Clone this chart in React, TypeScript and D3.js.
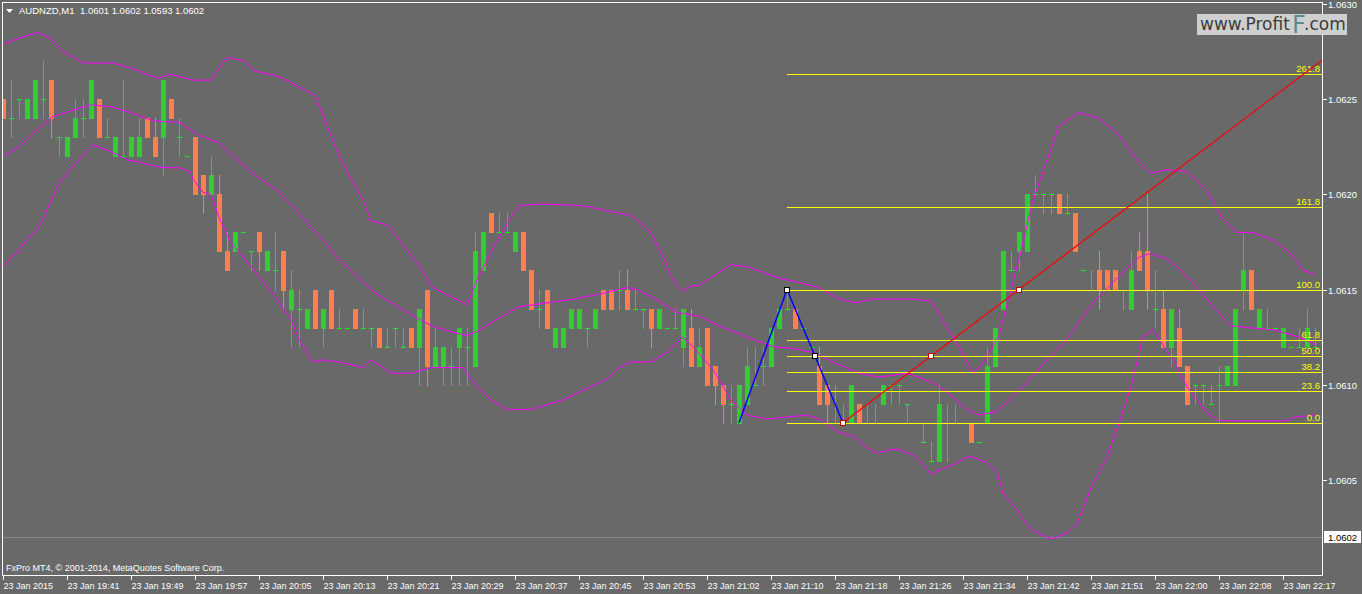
import React from 'react';
import * as d3 from 'd3';

// AUDNZD M1 candles, one per bar (oldest first)
const opens = [
  1.0625, 1.0624, 1.0625, 1.0624, 1.0624, 1.0625, 1.0626, 1.0623, 1.0622, 1.0623,
  1.0624, 1.0624, 1.0625, 1.0623, 1.0622, 1.0622, 1.0622, 1.0622, 1.0624, 1.0623,
  1.0623, 1.0625, 1.0623, 1.0622, 1.0623, 1.0621, 1.0620, 1.0620, 1.0617, 1.0617,
  1.0618, 1.0617, 1.0618, 1.0616, 1.0616, 1.0617, 1.0614, 1.0614, 1.0613, 1.0615,
  1.0613, 1.0615, 1.0613, 1.0613, 1.0614, 1.0613, 1.0613, 1.0613, 1.0612, 1.0613,
  1.0612, 1.0613, 1.0612, 1.0615, 1.0611, 1.0611, 1.0611, 1.0612, 1.0612, 1.0611,
  1.0616, 1.0619, 1.0618, 1.0618, 1.0617, 1.0618, 1.0616, 1.0614, 1.0615, 1.0612,
  1.0612, 1.0613, 1.0613, 1.0613, 1.0613, 1.0615, 1.0615, 1.0615, 1.0615, 1.0614,
  1.0614, 1.0614, 1.0613, 1.0613, 1.0613, 1.0612, 1.0613, 1.0611, 1.0613, 1.0611,
  1.0610, 1.0609, 1.0608, 1.0609, 1.0610, 1.0611, 1.0611, 1.0613, 1.0614, 1.0614,
  1.0613, 1.0612, 1.0611, 1.0610, 1.0608, 1.0608, 1.0608, 1.0609, 1.0608, 1.0608,
  1.0609, 1.0610, 1.0610, 1.0609, 1.0608, 1.0607, 1.0606, 1.0606, 1.0608, 1.0608,
  1.0608, 1.0608, 1.0607, 1.0608, 1.0611, 1.0614, 1.0616, 1.0617, 1.0617, 1.0620,
  1.0620, 1.0620, 1.0620, 1.0619, 1.0619, 1.0616, 1.0615, 1.0616, 1.0616, 1.0616,
  1.0615, 1.0614, 1.0617, 1.0617, 1.0614, 1.0614, 1.0612, 1.0613, 1.0611, 1.0610,
  1.0610, 1.0609, 1.0610, 1.0610, 1.0610, 1.0615, 1.0616, 1.0613, 1.0613, 1.0613,
  1.0612, 1.0612, 1.0612, 1.0612, 1.0612,
];
const highs = [
  1.0625, 1.0626, 1.0625, 1.0625, 1.0626, 1.0627, 1.0626, 1.0623, 1.0623, 1.0625,
  1.0625, 1.0626, 1.0625, 1.0624, 1.0623, 1.0626, 1.0623, 1.0624, 1.0624, 1.0624,
  1.0626, 1.0625, 1.0624, 1.0622, 1.0623, 1.0621, 1.0622, 1.0621, 1.0618, 1.0618,
  1.0618, 1.0617, 1.0618, 1.0617, 1.0618, 1.0617, 1.0616, 1.0615, 1.0614, 1.0615,
  1.0614, 1.0615, 1.0614, 1.0613, 1.0614, 1.0614, 1.0613, 1.0613, 1.0613, 1.0613,
  1.0613, 1.0613, 1.0614, 1.0615, 1.0613, 1.0612, 1.0612, 1.0613, 1.0613, 1.0618,
  1.0618, 1.0619, 1.0619, 1.0619, 1.0618, 1.0618, 1.0616, 1.0615, 1.0615, 1.0613,
  1.0613, 1.0614, 1.0614, 1.0613, 1.0614, 1.0615, 1.0615, 1.0616, 1.0616, 1.0615,
  1.0614, 1.0614, 1.0614, 1.0613, 1.0614, 1.0614, 1.0614, 1.0613, 1.0613, 1.0611,
  1.0610, 1.0610, 1.0610, 1.0612, 1.0612, 1.0612, 1.0613, 1.0614, 1.0615, 1.0614,
  1.0613, 1.0612, 1.0612, 1.0610, 1.0610, 1.0609, 1.0610, 1.0609, 1.0609, 1.0609,
  1.0610, 1.0610, 1.0610, 1.0609, 1.0608, 1.0608, 1.0607, 1.0610, 1.0609, 1.0609,
  1.0608, 1.0608, 1.0607, 1.0612, 1.0613, 1.0617, 1.0617, 1.0618, 1.0620, 1.0621,
  1.0620, 1.0620, 1.0620, 1.0620, 1.0619, 1.0616, 1.0616, 1.0617, 1.0616, 1.0616,
  1.0615, 1.0617, 1.0618, 1.0620, 1.0616, 1.0615, 1.0614, 1.0614, 1.0611, 1.0610,
  1.0610, 1.0610, 1.0611, 1.0611, 1.0614, 1.0618, 1.0616, 1.0614, 1.0614, 1.0613,
  1.0613, 1.0612, 1.0613, 1.0614, 1.0613,
];
const lows = [
  1.0624, 1.0623, 1.0624, 1.0624, 1.0624, 1.0624, 1.0623, 1.0622, 1.0622, 1.0623,
  1.0623, 1.0624, 1.0623, 1.0623, 1.0622, 1.0622, 1.0622, 1.0622, 1.0623, 1.0622,
  1.0621, 1.0624, 1.0622, 1.0622, 1.0620, 1.0619, 1.0620, 1.0617, 1.0616, 1.0617,
  1.0618, 1.0616, 1.0616, 1.0616, 1.0615, 1.0614, 1.0612, 1.0612, 1.0613, 1.0613,
  1.0612, 1.0613, 1.0613, 1.0613, 1.0613, 1.0613, 1.0612, 1.0612, 1.0612, 1.0612,
  1.0612, 1.0612, 1.0610, 1.0610, 1.0611, 1.0610, 1.0610, 1.0610, 1.0610, 1.0611,
  1.0616, 1.0618, 1.0618, 1.0618, 1.0617, 1.0616, 1.0614, 1.0613, 1.0613, 1.0612,
  1.0612, 1.0613, 1.0613, 1.0612, 1.0613, 1.0614, 1.0614, 1.0614, 1.0614, 1.0614,
  1.0613, 1.0612, 1.0613, 1.0613, 1.0613, 1.0611, 1.0611, 1.0611, 1.0610, 1.0609,
  1.0608, 1.0608, 1.0608, 1.0609, 1.0610, 1.0610, 1.0611, 1.0613, 1.0614, 1.0613,
  1.0613, 1.0612, 1.0609, 1.0608, 1.0608, 1.0608, 1.0608, 1.0608, 1.0608, 1.0608,
  1.0609, 1.0609, 1.0609, 1.0608, 1.0608, 1.0607, 1.0606, 1.0606, 1.0606, 1.0608,
  1.0608, 1.0607, 1.0607, 1.0608, 1.0611, 1.0614, 1.0616, 1.0616, 1.0617, 1.0620,
  1.0619, 1.0619, 1.0619, 1.0619, 1.0617, 1.0616, 1.0615, 1.0614, 1.0615, 1.0615,
  1.0614, 1.0614, 1.0616, 1.0614, 1.0613, 1.0612, 1.0611, 1.0611, 1.0609, 1.0609,
  1.0609, 1.0609, 1.0608, 1.0610, 1.0610, 1.0614, 1.0614, 1.0613, 1.0613, 1.0613,
  1.0612, 1.0612, 1.0612, 1.0612, 1.0612,
];
const closes = [
  1.0624, 1.0624, 1.0625, 1.0625, 1.0626, 1.0625, 1.0624, 1.0623, 1.0623, 1.0624,
  1.0624, 1.0626, 1.0623, 1.0623, 1.0623, 1.0622, 1.0623, 1.0623, 1.0623, 1.0622,
  1.0626, 1.0624, 1.0623, 1.0622, 1.0620, 1.0620, 1.0621, 1.0617, 1.0616, 1.0618,
  1.0618, 1.0617, 1.0617, 1.0617, 1.0616, 1.0615, 1.0615, 1.0614, 1.0614, 1.0613,
  1.0614, 1.0613, 1.0613, 1.0613, 1.0613, 1.0613, 1.0613, 1.0612, 1.0612, 1.0613,
  1.0612, 1.0612, 1.0614, 1.0611, 1.0612, 1.0612, 1.0611, 1.0613, 1.0612, 1.0617,
  1.0618, 1.0618, 1.0618, 1.0618, 1.0618, 1.0616, 1.0614, 1.0614, 1.0613, 1.0613,
  1.0613, 1.0614, 1.0614, 1.0613, 1.0614, 1.0614, 1.0614, 1.0615, 1.0614, 1.0614,
  1.0614, 1.0613, 1.0614, 1.0613, 1.0613, 1.0614, 1.0611, 1.0612, 1.0610, 1.0610,
  1.0609, 1.0609, 1.0610, 1.0611, 1.0610, 1.0611, 1.0613, 1.0614, 1.0614, 1.0613,
  1.0613, 1.0612, 1.0609, 1.0609, 1.0608, 1.0608, 1.0610, 1.0608, 1.0608, 1.0608,
  1.0610, 1.0610, 1.0610, 1.0609, 1.0608, 1.0607, 1.0606, 1.0609, 1.0608, 1.0608,
  1.0608, 1.0607, 1.0607, 1.0611, 1.0613, 1.0617, 1.0616, 1.0618, 1.0620, 1.0620,
  1.0620, 1.0620, 1.0619, 1.0619, 1.0617, 1.0616, 1.0615, 1.0615, 1.0615, 1.0615,
  1.0615, 1.0616, 1.0616, 1.0615, 1.0614, 1.0612, 1.0614, 1.0611, 1.0609, 1.0610,
  1.0610, 1.0609, 1.0610, 1.0611, 1.0614, 1.0616, 1.0614, 1.0614, 1.0613, 1.0613,
  1.0613, 1.0612, 1.0612, 1.0613, 1.0612,
];

// Bollinger bands: [bar, price]
const upperBand: [number, number][] = [
  [0, 1.06279], [2, 1.06282], [4.25, 1.06285], [6, 1.06282], [7.5, 1.06275], [10, 1.06269],
  [13.75, 1.06269], [16.25, 1.06266], [19.25, 1.06261], [21, 1.06263], [23.75, 1.0626],
  [26, 1.0626], [28, 1.06272], [30.25, 1.0627], [31.25, 1.06265], [34.5, 1.06262],
  [39, 1.06252], [42, 1.0622], [43.5, 1.06208], [45, 1.06197], [46, 1.06186], [48, 1.06184],
  [51.25, 1.06167], [53.75, 1.06151], [58, 1.06142], [59.25, 1.06155], [61.75, 1.06176],
  [64.5, 1.06194], [67.5, 1.06195], [72.5, 1.06194], [76, 1.06191], [78.5, 1.06189],
  [81, 1.0618], [82.5, 1.06167], [83.75, 1.06155], [85, 1.06149], [86, 1.06152], [87, 1.06152],
  [88.75, 1.06157], [91, 1.06163], [93, 1.06162], [95, 1.06159], [97, 1.06156],
  [99.25, 1.06154], [102, 1.06151], [104.5, 1.06145], [106.75, 1.06143], [108.5, 1.06145],
  [113.75, 1.06145], [116, 1.06144], [118, 1.0613], [119.5, 1.0612], [121.25, 1.06106],
  [123, 1.06114], [124.5, 1.06126], [127, 1.06166], [128.75, 1.06197], [130.5, 1.06218],
  [132, 1.06236], [134.5, 1.06243], [137, 1.0624], [139.5, 1.06231], [141.75, 1.06218],
  [143.5, 1.06211], [145.5, 1.06213], [148, 1.06212], [150.5, 1.06202], [152.5, 1.06187],
  [154.25, 1.0618], [156.25, 1.0618], [158.75, 1.06176], [161, 1.06169], [162.5, 1.0616],
  [164, 1.06158],
];
const middleBand: [number, number][] = [
  [0, 1.0622], [2, 1.06225], [3.75, 1.06232], [6.25, 1.06241], [11, 1.06247], [13.5, 1.06246],
  [16, 1.06243], [18.5, 1.06239], [20.5, 1.06238], [22, 1.06238], [24.5, 1.06231],
  [27, 1.06227], [28, 1.06223], [31.25, 1.06211], [34.25, 1.06202], [37, 1.0619],
  [40, 1.06176], [42, 1.06166], [43.5, 1.0616], [46.25, 1.06149], [50.5, 1.06138],
  [53.5, 1.06131], [56.75, 1.06127], [58, 1.06126], [59.25, 1.06128], [62, 1.06135],
  [64.5, 1.06141], [68, 1.06143], [71.25, 1.06145], [75, 1.06148], [78, 1.06151],
  [79.25, 1.0615], [82, 1.06144], [84.25, 1.06138], [87, 1.06136], [89.5, 1.06131],
  [93, 1.06125], [96.25, 1.0612], [98.75, 1.06119], [101.25, 1.06117], [104.25, 1.06111],
  [107, 1.06106], [109.5, 1.06104], [113, 1.06106], [116.25, 1.06101], [118, 1.06096],
  [120.5, 1.06087], [122, 1.06084], [124.25, 1.06086], [125.5, 1.06091], [127.5, 1.06099],
  [130.5, 1.06113], [133, 1.06124], [136.25, 1.06143], [139.5, 1.06157], [142, 1.06167],
  [143.5, 1.06169], [145.5, 1.06166], [147, 1.06161], [149.5, 1.0615], [151.25, 1.06141],
  [153.5, 1.06131], [155.5, 1.0613], [158.75, 1.06129], [162, 1.06125], [164, 1.06121],
];
const lowerBand: [number, number][] = [
  [0, 1.06162], [1.25, 1.06168], [2, 1.0617], [3, 1.06177], [4.25, 1.06181], [5, 1.06187],
  [7, 1.06206], [9.25, 1.06217], [11.25, 1.06226], [12, 1.06225], [14.25, 1.06221],
  [15.5, 1.06218], [17, 1.06217], [18.75, 1.06215], [20.5, 1.06214], [22, 1.06214],
  [23.4, 1.06212], [23.75, 1.06208], [25, 1.06201], [26, 1.062], [27, 1.06188],
  [28.4, 1.06175], [31, 1.06162], [34.25, 1.06145], [36, 1.06134], [37, 1.06124],
  [38.75, 1.06112], [40, 1.06113], [42, 1.06112], [45, 1.06109], [46, 1.06113],
  [48.5, 1.06106], [51, 1.06106], [53.5, 1.06109], [57.5, 1.06109], [59.25, 1.06099],
  [61, 1.06092], [63, 1.06087], [66, 1.06087], [70, 1.06092], [75.5, 1.06103], [77, 1.06109],
  [78.5, 1.06112], [81, 1.06112], [83, 1.06117], [85, 1.06125], [86.25, 1.0612],
  [88.75, 1.06108], [91, 1.06092], [93, 1.06084], [95.5, 1.06082], [98, 1.06083],
  [100.5, 1.06084], [102, 1.06082], [104.5, 1.06075], [106.25, 1.06073], [108, 1.06067],
  [109.25, 1.06064], [111, 1.06066], [112, 1.06066], [113.75, 1.06063], [115, 1.06058],
  [116, 1.06053], [117, 1.06055], [118.75, 1.06058], [120.5, 1.06062], [121.25, 1.06062],
  [123, 1.06059], [124.25, 1.06054], [125, 1.06043], [126.75, 1.06034], [128.5, 1.06024],
  [131, 1.06019], [133, 1.06022], [134.25, 1.06027], [136, 1.06046], [138, 1.06062],
  [139.5, 1.0608], [141, 1.06099], [142.5, 1.06125], [143.75, 1.06129], [144.5, 1.06124],
  [146.25, 1.06113], [148, 1.06099], [149.25, 1.06092], [150.5, 1.06085], [152, 1.06081],
  [154.25, 1.06081], [160.5, 1.06081], [161.5, 1.06083], [164, 1.06084],
];

const timeLabels = [
  '23 Jan 2015', '23 Jan 19:41', '23 Jan 19:49', '23 Jan 19:57', '23 Jan 20:05', '23 Jan 20:13',
  '23 Jan 20:21', '23 Jan 20:29', '23 Jan 20:37', '23 Jan 20:45', '23 Jan 20:53', '23 Jan 21:02',
  '23 Jan 21:10', '23 Jan 21:18', '23 Jan 21:26', '23 Jan 21:34', '23 Jan 21:42', '23 Jan 21:51',
  '23 Jan 22:00', '23 Jan 22:08', '23 Jan 22:17',
];
const priceTicks = [1.063, 1.0625, 1.062, 1.0615, 1.061, 1.0605];
const lastPrice = 1.0602;

// drawing objects: [bar, price]
const zigzag: [number, number][] = [[92, 1.0608], [98, 1.0615], [105, 1.0608]];
const fibFrom: [number, number] = [98, 1.0615];
const fibTo: [number, number] = [105, 1.0608];
const fibLevels = [0, 23.6, 38.2, 50, 61.8, 100, 161.8, 261.8];
const trendFrom: [number, number] = [105, 1.0608];
const trendTo: [number, number] = [127, 1.0615];

const W = 1362;
const H = 594;
const FONT = '"Liberation Sans", Arial, sans-serif';
const BG = '#696969';
const BULL = '#32CD32';
const BEAR = '#FF7F50';

const plot = { left: 3, top: 3, right: 1322, bottom: 575 };

export default function App() {
  const x = d3.scaleLinear().domain([0, 164]).range([3, 1315]);
  const y = d3.scaleLinear().domain([lastPrice, 1.063]).range([537, 4]);

  const line = d3.line<[number, number]>().x(d => x(d[0])).y(d => y(d[1]));

  const fibPrice = (lvl: number) => fibTo[1] + (fibFrom[1] - fibTo[1]) * lvl / 100;
  const slope = (trendTo[1] - trendFrom[1]) / (trendTo[0] - trendFrom[0]);
  const trendEnd: [number, number] = [170, trendFrom[1] + slope * (170 - trendFrom[0])];

  const candles = opens.map((o, i) => {
    const c = closes[i];
    const cx = Math.round(x(i));
    const yo = Math.round(y(o));
    const yc = Math.round(y(c));
    const yh = Math.round(y(highs[i]));
    const yl = Math.round(y(lows[i]));
    const bear = c < o;
    const col = bear ? BEAR : BULL;
    return (
      <g key={i}>
        {yl > yh && (
          <line x1={cx + 0.5} x2={cx + 0.5} y1={yh} y2={yl + 1} stroke={col} strokeWidth={1} />
        )}
        {c === o ? (
          <line x1={cx - 2} x2={cx + 3} y1={yo + 0.5} y2={yo + 0.5} stroke="#00FF00" strokeWidth={1} />
        ) : (
          <rect x={cx - 2} y={Math.min(yo, yc)} width={5} height={Math.abs(yo - yc) + 1} fill={col} />
        )}
      </g>
    );
  });

  const marker = (p: [number, number], stroke: string, key: string) => (
    <rect key={key} x={Math.round(x(p[0])) - 2.5} y={Math.round(y(p[1])) - 2.5} width={5} height={5}
      fill="#FFFFFF" stroke={stroke} strokeWidth={1} />
  );

  const fibMid: [number, number] = [(fibFrom[0] + fibTo[0]) / 2, (fibFrom[1] + fibTo[1]) / 2];
  const trendMid: [number, number] = [(trendFrom[0] + trendTo[0]) / 2, (trendFrom[1] + trendTo[1]) / 2];

  return (
    <svg width={W} height={H} style={{ position: 'absolute', left: 0, top: 0, display: 'block' }}
      fontFamily={FONT}>
      <defs>
        <clipPath id="plot">
          <rect x={plot.left} y={plot.top} width={plot.right - plot.left} height={plot.bottom - plot.top} />
        </clipPath>
      </defs>
      <rect x={0} y={0} width={W} height={H} fill={BG} />

      {/* current price line */}
      <line x1={plot.left} x2={plot.right} y1={Math.round(y(lastPrice)) + 0.5} y2={Math.round(y(lastPrice)) + 0.5}
        stroke="#7F8A96" strokeWidth={1} />

      <g clipPath="url(#plot)" shapeRendering="crispEdges">{candles}</g>

      <g clipPath="url(#plot)" fill="none" stroke="#FF00FF" strokeWidth={1}>
        <path d={line(upperBand) ?? ''} />
        <path d={line(middleBand) ?? ''} />
        <path d={line(lowerBand) ?? ''} />
      </g>

      {/* fibonacci retracement */}
      <g clipPath="url(#plot)">
        {fibLevels.map(l => {
          const yy = Math.round(y(fibPrice(l))) + 0.5;
          return (
            <g key={l}>
              <line x1={Math.round(x(fibFrom[0]))} x2={plot.right} y1={yy} y2={yy} stroke="#FFFF00" strokeWidth={1}
                shapeRendering="crispEdges" />
              <text x={1320} y={yy - 2.5} textAnchor="end" fontSize={9.5} fill="#FFFF00">{l.toFixed(1)}</text>
            </g>
          );
        })}
      </g>

      <g clipPath="url(#plot)">
        <path d={line(zigzag) ?? ''} fill="none" stroke="#0000FF" strokeWidth={1.5} />
        <path d={line([trendFrom, trendEnd]) ?? ''} fill="none" stroke="#FF0000" strokeWidth={1.2} />
        {marker(fibFrom, '#000000', 'f1')}
        {marker(fibMid, '#000000', 'f2')}
        {marker(trendFrom, '#C00000', 't1')}
        {marker(trendMid, '#C00000', 't2')}
        {marker(trendTo, '#C00000', 't3')}
      </g>

      {/* frame */}
      <rect x={2.5} y={2.5} width={1320} height={573} fill="none" stroke="#FFFFFF" strokeWidth={1}
        shapeRendering="crispEdges" />

      {/* price axis */}
      {priceTicks.map(p => {
        const yy = Math.round(y(p)) + 0.5;
        return (
          <g key={p}>
            <line x1={1323} x2={1327} y1={yy} y2={yy} stroke="#FFFFFF" shapeRendering="crispEdges" />
            <text x={1328} y={yy + 3.5} fontSize={9.5} fill="#FFFFFF">{p.toFixed(4)}</text>
          </g>
        );
      })}
      <rect x={1324} y={531} width={37} height={12} fill="#FFFFFF" />
      <text x={1328} y={y(lastPrice) + 4} fontSize={9.5} fill="#000000">{lastPrice.toFixed(4)}</text>

      {/* time axis */}
      {timeLabels.map((t, k) => {
        const xx = Math.round(x(k * 8)) + 0.5;
        return (
          <g key={t}>
            <line x1={xx} x2={xx} y1={576} y2={580} stroke="#FFFFFF" shapeRendering="crispEdges" />
            <text x={xx} y={589} fontSize={9} fill="#FFFFFF">{t}</text>
          </g>
        );
      })}

      {/* header */}
      <path d="M6,9 L13,9 L9.5,13 Z" fill="#FFFFFF" />
      <text x={19} y={14} fontSize={9.5} fill="#FFFFFF">AUDNZD,M1</text>
      <text x={80} y={14} fontSize={9.5} fill="#FFFFFF">1.0601 1.0602 1.0593 1.0602</text>

      <text x={6} y={571} fontSize={9} fill="#FFFFFF">FxPro MT4, © 2001-2014, MetaQuotes Software Corp.</text>

      {/* watermark */}
      <rect x={1197} y={14} width={150} height={21} fill="#CFCFCF" />
      <g fontFamily='"DejaVu Sans", sans-serif' fill="#3C3C3C">
        <text x={1200} y={30} fontSize={17}>www.Profit</text>
        <text x={1292} y={33} fontSize={24} fill="#5F8C90">F</text>
        <text x={1304} y={30} fontSize={17}>.com</text>
      </g>
    </svg>
  );
}
